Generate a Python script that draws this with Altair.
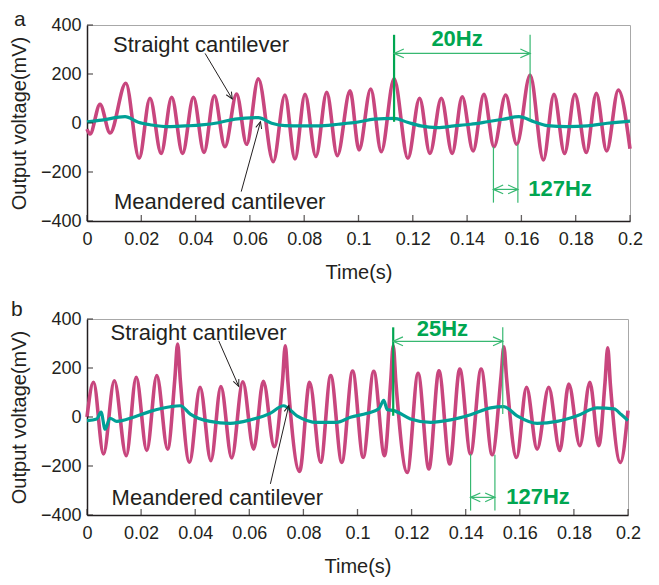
import math
import altair as alt
import pandas as pd

# ---------------- data ----------------
# Panel a - straight cantilever (peaks / troughs)
A_STRAIGHT_T = [0, 0.0011, 0.0048, 0.0085, 0.0143, 0.0192, 0.0232, 0.0273, 0.0312, 0.0352,
                0.0392, 0.0431, 0.0469, 0.0508, 0.0551, 0.0588, 0.0631, 0.0686, 0.0729, 0.0766,
                0.0803, 0.0843, 0.0883, 0.0922, 0.0969, 0.1002, 0.1045, 0.1084, 0.1131, 0.1182,
                0.1225, 0.1263, 0.1305, 0.1345, 0.1382, 0.1422, 0.1462, 0.1499, 0.1542, 0.1583,
                0.1632, 0.1681, 0.1720, 0.1759, 0.1797, 0.1839, 0.1876, 0.1914, 0.1957, 0.2]
A_STRAIGHT_V = [-25, -45, 76, -41, 162, -144, 101, -124, 105, -124,
                105, -120, 111, -97, 118, -87, 180, -158, 114, -147,
                117, -137, 125, -133, 131, -110, 139, -117, 180, -144,
                101, -124, 101, -124, 107, -114, 117, -97, 114, -87,
                196, -151, 117, -124, 117, -120, 121, -114, 135, -105]
# Panel a - meandered cantilever
A_MEANDER_T = [0, 0.0054, 0.0140, 0.0189, 0.0238, 0.0300, 0.0361, 0.0422, 0.0484, 0.0545,
               0.0631, 0.0680, 0.0729, 0.0791, 0.0852, 0.0926, 0.0999, 0.1057, 0.1131, 0.1180,
               0.1229, 0.1290, 0.1352, 0.1413, 0.1474, 0.1536, 0.1591, 0.1646, 0.1695, 0.1769,
               0.1843, 0.1916, 0.2]
A_MEANDER_V = [5, 12, 26, 3, -8, -15, -12, -8, 1, 16,
               22, -1, -11, -12, -12, -5, 4, 16, 19, 3,
               -12, -19, -12, -5, 5, 16, 26, 5, -11, -15,
               -12, -1, 8]

# Panel b - straight cantilever
B_STRAIGHT_T = [0, 0.0024, 0.0061, 0.0101, 0.0145, 0.0182, 0.0221, 0.0258, 0.0298, 0.0325,
                0.0335, 0.0345, 0.0379, 0.0418, 0.0458, 0.0495, 0.0535, 0.0576, 0.0616, 0.0652,
                0.0692, 0.0723, 0.0733, 0.0743, 0.0786, 0.0823, 0.0864, 0.0901, 0.0942, 0.0982,
                0.1021, 0.1060, 0.1100, 0.1123, 0.1132, 0.1142, 0.1184, 0.1224, 0.1264, 0.1301,
                0.1341, 0.1378, 0.1418, 0.1457, 0.1498, 0.1531, 0.1541, 0.1551, 0.1588, 0.1625,
                0.1664, 0.1707, 0.1748, 0.1781, 0.1822, 0.1859, 0.1892, 0.1915, 0.1925, 0.1935,
                0.1972, 0.2]
B_STRAIGHT_V = [0, 142, -151, 148, -158, 162, -137, 169, -131, 160,
                298, 150, -185, 121, -178, 124, -167, 144, -131, 146,
                -121, 150, 291, 140, -222, 142, -185, 169, -185, 188,
                -165, 187, -158, 150, 291, 140, -226, 178, -212, 189,
                -192, 196, -151, 196, -154, 170, 287, 160, -165, 121,
                -131, 121, -137, 135, -117, 142, -117, 140, 282, 130,
                -185, 26]
# Panel b - meandered cantilever
B_MEANDER_T = [0, 0.0036, 0.0052, 0.0067, 0.0085, 0.0110, 0.0172, 0.0234, 0.0308, 0.0345,
               0.0382, 0.0455, 0.0529, 0.0603, 0.0677, 0.0726, 0.0776, 0.0850, 0.0923, 0.0974,
               0.1036, 0.1080, 0.1097, 0.1110, 0.1134, 0.1196, 0.1270, 0.1344, 0.1418, 0.1492,
               0.1541, 0.1590, 0.1664, 0.1738, 0.1812, 0.1886, 0.1948, 0.1975, 0.2]
B_MEANDER_V = [-15, -8, 20, -50, -5, -18, -1, 23, 42, 46,
               12, -18, -26, -12, 15, 46, 5, -22, -22, -1,
               15, 35, 68, 30, 26, -8, -22, -12, 9, 37,
               42, 5, -26, -18, 5, 37, 33, 10, -15]

X_TICKS = [0, 0.02, 0.04, 0.06, 0.08, 0.1, 0.12, 0.14, 0.16, 0.18, 0.2]
Y_TICKS = [-400, -200, 0, 200, 400]

# annotations (data units)
A_VLINES = {"t": [0.1131, 0.1632, 0.1497, 0.1587], "v": [5, 12, -97, -87],
            "v2": [360, 360, -325, -325], "w": [2.2, 1.2, 1.2, 1.2]}
A_HARROWS = {"t": [0.1131, 0.1497], "t2": [0.1632, 0.1587], "v": [284, -271]}
A_FREQ_TEXT = {"t": [0.1363, 0.1625], "v": [314, -298], "label": ["20Hz", "127Hz"],
               "align": ["center", "left"]}
A_LABELS = {"t": [0.0096, 0.0099], "v": [291, -351],
            "label": ["Straight cantilever", "Meandered cantilever"]}
A_POINTERS = {"t": [0.0435, 0.0568], "v": [284, -280], "t2": [0.0535, 0.0639], "v2": [98, 5]}

B_VLINES = {"t": [0.1132, 0.1537, 0.1418, 0.1508], "v": [5, 12, -151, -154],
            "v2": [366, 366, -382, -382], "w": [2.2, 1.2, 1.2, 1.2]}
B_HARROWS = {"t": [0.1132, 0.1418], "t2": [0.1537, 0.1508], "v": [309, -328]}
B_FREQ_TEXT = {"t": [0.1314, 0.1550], "v": [331, -355], "label": ["25Hz", "127Hz"],
               "align": ["center", "left"]}
B_LABELS = {"t": [0.0087, 0.0091], "v": [316, -359],
            "label": ["Straight cantilever", "Meandered cantilever"]}
B_POINTERS = {"t": [0.0487, 0.0678], "v": [311, -273], "t2": [0.0561, 0.0746], "v2": [125, 47]}

# ---------------- styling ----------------
FONT = "Liberation Sans"
MAG = "#C8467E"
TEAL = "#00A096"
GREEN = "#00A651"
GREEN_L = "#37B871"
INK = "#231F20"
CHEVRON = "M-1,-0.45L0,0L-1,0.45"
H = 196


def panel(label, label_dx, label_dy, width, st, sv, mt, mv, vl, ha, ft, lab, ptr):
    xs = alt.Scale(domain=[0, 0.2], nice=False, zero=False)
    ys = alt.Scale(domain=[-400, 400], nice=False, zero=False)
    xa = alt.Axis(values=X_TICKS, format="~g", title="Time(s)", labelFlush=False,
                  tickSize=0, grid=False, labelPadding=9, titlePadding=14, labelOverlap=False)
    ya = alt.Axis(values=Y_TICKS, title="Output voltage(mV)", tickSize=0, grid=False,
                  labelPadding=6, titlePadding=11)
    X = lambda: alt.X("t:Q", scale=xs, axis=xa)
    Y = lambda: alt.Y("v:Q", scale=ys, axis=ya)
    sx = width / 0.2
    sy = H / 800.0

    straight = alt.Chart(pd.DataFrame({"t": st, "v": sv})).mark_line(
        color=MAG, strokeWidth=3.6, interpolate="monotone"
    ).encode(x=X(), y=Y())
    meander = alt.Chart(pd.DataFrame({"t": mt, "v": mv})).mark_line(
        color=TEAL, strokeWidth=3.2, interpolate="monotone"
    ).encode(x=X(), y=Y())

    xt = alt.Chart(pd.DataFrame({"t": X_TICKS, "v": [Y_TICKS[0]] * len(X_TICKS)})).mark_tick(
        orient="vertical", size=6, thickness=1.3, color=INK, yOffset=-3
    ).encode(x=X(), y=Y())
    yt = alt.Chart(pd.DataFrame({"t": [0] * len(Y_TICKS), "v": Y_TICKS})).mark_tick(
        orient="horizontal", size=6, thickness=1.3, color=INK, xOffset=3
    ).encode(x=X(), y=Y())

    vdf = pd.DataFrame(vl)
    vdf["c"] = [GREEN] + [GREEN_L] * (len(vdf) - 1)
    vlines = alt.Chart(vdf).mark_rule().encode(
        x=X(), y=Y(), y2="v2:Q",
        strokeWidth=alt.StrokeWidth("w:Q", scale=None),
        color=alt.Color("c:N", scale=None))
    hdf = pd.DataFrame(ha)
    harrows = alt.Chart(hdf).mark_rule(color=GREEN_L, strokeWidth=1.2).encode(
        x=X(), x2="t2:Q", y=Y())
    heads = pd.DataFrame({
        "t": list(hdf["t"]) + list(hdf["t2"]),
        "v": list(hdf["v"]) * 2,
        "ang": [180] * len(hdf) + [0] * len(hdf)})
    gheads = alt.Chart(heads).mark_point(
        shape=CHEVRON, filled=False, size=380, strokeWidth=1.2, color=GREEN_L, opacity=1
    ).encode(x=X(), y=Y(), angle=alt.Angle("ang:Q", scale=None))

    fdf = pd.DataFrame(ft)
    ftexts = []
    for al in ["center", "left"]:
        sub = fdf[fdf["align"] == al]
        ftexts.append(alt.Chart(sub).mark_text(
            align=al, baseline="alphabetic", font=FONT, fontSize=22, fontWeight="bold",
            color=GREEN).encode(x=X(), y=Y(), text="label:N"))

    labels = alt.Chart(pd.DataFrame(lab)).mark_text(
        align="left", baseline="alphabetic", font=FONT, fontSize=22, color=INK
    ).encode(x=X(), y=Y(), text="label:N")

    pdf = pd.DataFrame(ptr)
    pointers = alt.Chart(pdf).mark_rule(color=INK, strokeWidth=1).encode(
        x=X(), y=Y(), x2="t2:Q", y2="v2:Q")
    pdf2 = pd.DataFrame({
        "t": pdf["t2"], "v": pdf["v2"],
        "ang": [math.degrees(math.atan2(-(b - a) * sy, (d - c) * sx)) % 360
                for a, b, c, d in zip(pdf["v"], pdf["v2"], pdf["t"], pdf["t2"])]})
    pheads = alt.Chart(pdf2).mark_point(
        shape=CHEVRON, filled=False, size=180, strokeWidth=1, color=INK, opacity=1
    ).encode(x=X(), y=Y(), angle=alt.Angle("ang:Q", scale=None))

    plabel = alt.Chart(pd.DataFrame({"lab": [label]})).mark_text(
        align="left", baseline="alphabetic", font=FONT, fontSize=21, color=INK
    ).encode(text="lab:N", x=alt.value(label_dx), y=alt.value(label_dy))

    return alt.layer(straight, meander, xt, yt, vlines, harrows, gheads, *ftexts,
                     labels, pointers, pheads, plabel).properties(width=width, height=H)


pa = panel("a", -73, 1, 543, A_STRAIGHT_T, A_STRAIGHT_V, A_MEANDER_T, A_MEANDER_V,
           A_VLINES, A_HARROWS, A_FREQ_TEXT, A_LABELS, A_POINTERS)
pb = panel("b", -76, -3, 541, B_STRAIGHT_T, B_STRAIGHT_V, B_MEANDER_T, B_MEANDER_V,
           B_VLINES, B_HARROWS, B_FREQ_TEXT, B_LABELS, B_POINTERS)

chart = alt.vconcat(pa, pb, spacing=15).properties(
    padding={"left": 0, "top": 0, "right": 0, "bottom": 0}
).configure_view(stroke="#A8A8A8", strokeWidth=1).configure_axis(
    domainColor=INK, domainWidth=1.5, labelColor=INK, titleColor=INK,
    labelFont=FONT, titleFont=FONT, labelFontSize=18, titleFontSize=20,
    titleFontWeight="normal")

chart.save("out.html", embed_options={"renderer": "svg", "actions": False})
